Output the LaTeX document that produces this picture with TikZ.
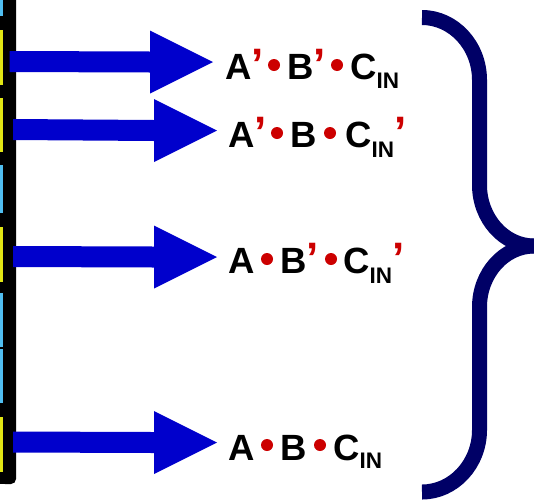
\documentclass[tikz,border=0pt]{standalone}
\usepackage{fontspec}
\setmainfont{Liberation Sans}
\usetikzlibrary{calc}
\definecolor{arrowblue}{RGB}{0,0,204}
\definecolor{bracenavy}{RGB}{0,0,102}
\definecolor{dotred}{RGB}{204,0,0}
\definecolor{tabcyan}{RGB}{80,190,240}
\definecolor{tabyellow}{RGB}{225,230,20}
\newcommand\pr{\textcolor{dotred}{\fontsize{44}{44}\selectfont ’}}
\newcommand\cin[1]{C\raisebox{-#1pt}{\fontsize{22.5}{22.5}\selectfont IN}}
\newcommand\blockarrow[2]{% start coord, tip coord
  \fill[arrowblue] ($(#1)+(0,-10.5)$) -- ($(#2)+(-63,-10.5)$) -- ($(#2)+(-63,-31.5)$) -- (#2)
    -- ($(#2)+(-63,31.5)$) -- ($(#2)+(-63,10.5)$) -- ($(#1)+(0,10.5)$) -- cycle;}
\begin{document}
\begin{tikzpicture}[x=1pt,y=-1pt,
  term/.style={anchor=base west,inner sep=0pt,font=\bfseries\fontsize{36.5}{36.5}\selectfont},
  dotmark/.style={fill=dotred,circle,inner sep=0pt,minimum size=12pt}]
\useasboundingbox (0,0) rectangle (534,501);
% left bar
\fill[black,rounded corners=5pt] (0,-10) -- (16,-10) -- (16,484) -- (0,484) -- cycle;
\fill[black] (0,470) rectangle (8,484);
\fill[tabcyan]   (0,0)   rectangle (3,16);
\fill[tabyellow] (0,30)  rectangle (3,85);
\fill[tabyellow] (0,98)  rectangle (3,152);
\fill[tabcyan]   (0,165) rectangle (3,213);
\fill[tabyellow] (0,227) rectangle (3,282);
\fill[tabcyan]   (0,293) rectangle (3,347);
\fill[tabcyan]   (0,349) rectangle (3,403);
\fill[tabyellow] (0,417) rectangle (3,472);
% arrows
\coordinate (s1) at (9.5,61.5);  \coordinate (t1) at (213,62);
\coordinate (s2) at (13,129.5);  \coordinate (t2) at (217,130.5);
\coordinate (s3) at (13,256.5);  \coordinate (t3) at (217,257);
\coordinate (s4) at (13,442);    \coordinate (t4) at (217,442.5);
\blockarrow{s1}{t1}
\blockarrow{s2}{t2}
\blockarrow{s3}{t3}
\blockarrow{s4}{t4}
% line 1
\node[term] (a1) at (225,79) {A\pr};
\node[dotmark] (d1a) at (274,65) {};
\node[term] (b1) at (287,79) {B\pr};
\node[dotmark] (d1b) at (337,65) {};
\node[term] (c1) at (350,79) {\cin{9}};
% line 2
\node[term] (a2) at (228,147) {A\pr};
\node[dotmark] (d2a) at (277,133) {};
\node[term] (b2) at (290,147) {B};
\node[dotmark] (d2b) at (330,133) {};
\node[term] (c2) at (345,147) {\cin{10}\pr};
% line 3
\node[term] (a3) at (228,273) {A};
\node[dotmark] (d3a) at (267,259) {};
\node[term] (b3) at (280,273) {B\pr};
\node[dotmark] (d3b) at (331,259) {};
\node[term] (c3) at (343,273) {\cin{10}\pr};
% line 4
\node[term] (a4) at (228,460) {A};
\node[dotmark] (d4a) at (267,445) {};
\node[term] (b4) at (280,460) {B};
\node[dotmark] (d4b) at (320,445) {};
\node[term] (c4) at (333,460) {\cin{8}};
% brace
\draw[bracenavy,line width=15pt] (422,17.5) .. controls (453.6,17.5) and (479.5,45.6) .. (479.5,80)
  -- (479.5,185) .. controls (479.5,218.5) and (504,246) .. (534,246);
\draw[bracenavy,line width=15pt] (534,246) .. controls (504,246) and (479.5,273.5) .. (479.5,307)
  -- (479.5,430) .. controls (479.5,464) and (453.6,492) .. (422,492);
\end{tikzpicture}
\end{document}
